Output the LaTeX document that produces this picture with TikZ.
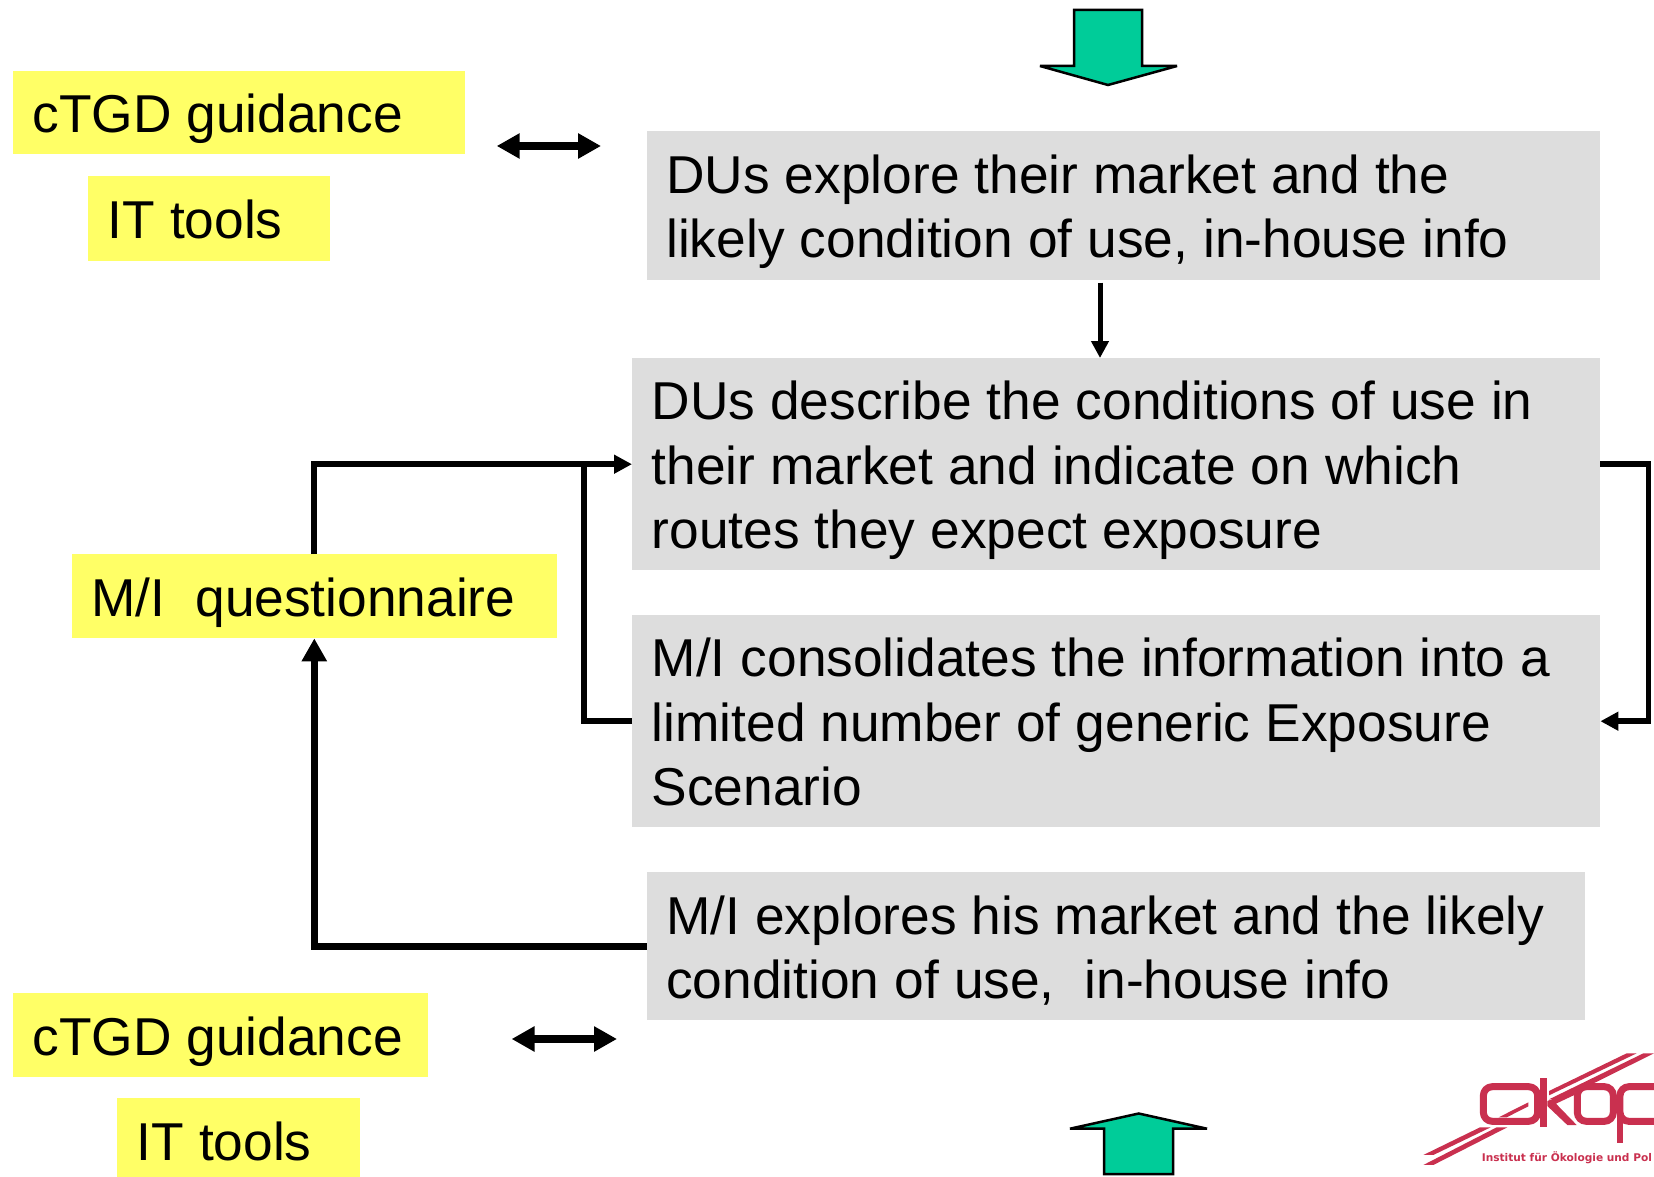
\documentclass[tikz,border=0pt]{standalone}
\usepackage{fontspec}
\setmainfont{Liberation Sans}
\newfontfamily\logofont{DejaVu Sans Bold}
\usetikzlibrary{arrows.meta,calc}
\definecolor{hl}{HTML}{FFFF66}
\definecolor{bx}{HTML}{DDDDDD}
\definecolor{grn}{HTML}{00CC99}
\definecolor{lg}{HTML}{C9304F}
\newcommand{\lnstrut}{\rule[-12.15pt]{0pt}{64.3pt}}
\tikzset{
  lbl/.style n args={2}{anchor=north west,inner ysep=0pt,inner xsep=19.5pt,
    minimum height=#2,text width=#1-39pt,align=left,
    execute at begin node={\spaceskip=15pt\relax\xspaceskip=15pt\relax\lnstrut},execute at end node=\lnstrut,
    font=\fontsize{53.3}{64.3}\selectfont,text=black},
  yellowbox/.style n args={2}{lbl={#1}{#2},fill=hl},
  greybox/.style n args={2}{lbl={#1}{#2},fill=bx},
  conn/.style={line width=5.7pt,draw=black,line cap=butt,line join=miter},
  headS/.style={-{Triangle[length=18pt,width=18pt]}},
  headB/.style={conn,line width=7pt,-{Triangle[length=23pt,width=24pt]}},
  dbl/.style={line width=8pt,draw=black,{Triangle[length=23pt,width=24pt]}-{Triangle[length=23pt,width=24pt]}},
  bigarrow/.style={fill=grn,draw=black,line width=2.5pt,line join=miter,miter limit=3},
  logoline/.style={fill=lg,draw=none}
}
\begin{document}
\begin{tikzpicture}[x=1pt,y=-1pt]
\useasboundingbox (0,0) rectangle (1654,1177);
% boxes
\node[yellowbox={452.3pt}{83.5pt}] (g1) at (12.7,70.5) {cTGD guidance};
\node[yellowbox={241.5pt}{84.5pt}] (t1) at (88,176) {IT tools};
\node[greybox={953.4pt}{148.5pt}] (d1) at (646.6,131) {DUs explore their market and the\\likely condition of use, in-house info};
\node[greybox={968pt}{212pt}] (d2) at (632,358) {DUs describe the conditions of use in\\their market and indicate on which\\routes they expect exposure};
\node[greybox={968pt}{212pt}] (m1) at (632,615) {M/I consolidates the information into a\\limited number of generic Exposure\\Scenario};
\node[greybox={938.4pt}{148pt}] (m2) at (646.6,872) {M/I explores his market and the likely\\condition of use,\ \ in-house info};
\node[yellowbox={485.3pt}{84pt}] (q) at (71.7,554) {M/I\ \ questionnaire};
\node[yellowbox={415.3pt}{84pt}] (g2) at (12.7,993) {cTGD guidance};
\node[yellowbox={243pt}{84pt}] (t2) at (117,1098) {IT tools};
% free ends
\coordinate (qtop) at ($(q.north west)+(242.6pt,0pt)$);
\coordinate (qbot) at ($(q.south west)+(242.6pt,0pt)$);
\coordinate (g1r) at (496.7,146);
\coordinate (d1l) at (601,146);
\coordinate (g2r) at (511.6,1039);
\coordinate (m2l) at (617,1039);
\coordinate (d1b) at (1100,282.5);
\coordinate (d2t) at (1100,358);
% connectors
\draw[line width=5pt,-{Triangle[length=17pt,width=17pt]}] (d1b) -- (d2t);
\draw[conn,headS] (qtop) |- (d2.west);
\draw[conn] (m1.west) -| ($(d2.west)+(-48pt,0pt)$);
\draw[conn,headS] (d2.east) -| ($(m1.east)+(48pt,0pt)$) -- (m1.east);
\draw[headB] (m2.west) -| (qbot);
\draw[dbl] (g1r) -- (d1l);
\draw[dbl] (g2r) -- (m2l);
% big arrows
\draw[bigarrow] (1074,10) -- (1142,10) -- (1142,66) -- (1177,66) -- (1108,85) -- (1040,66) -- (1074,66) -- cycle;
\draw[bigarrow] (1104,1174) -- (1173,1174) -- (1173,1128.7) -- (1207,1128.7) -- (1138.7,1113.5) -- (1070,1128.7) -- (1104,1128.7) -- cycle;
% logo
\begin{scope}
\clip (1400,1030) rectangle (1654,1177);
\begin{scope}[shift={(1400,1030)},x=0.3333pt,y=-0.3333pt]
\path[logoline] (680,70) -- (710,70) -- (447,196) -- (447,183) -- cycle;
\path[logoline] (730,70) -- (762,70) -- (490,205) -- (447,208) -- cycle;
\path[logoline] (240,292) -- (272,292) -- (100,375) -- (70,375) -- cycle;
\path[logoline] (290,292) -- (322,292) -- (100,405) -- (70,405) -- cycle;
\path[logoline] (296,262) -- (385,217) -- (385,229) -- (320,262) -- cycle;
\draw[lg,line width=7pt,rounded corners=9pt,line join=round] (250,170) rectangle (413,274);
\path[logoline] (420,145) -- (442,145) -- (442,290) -- (420,290) -- cycle;
\path[logoline] (442,213) -- (510,187) -- (540,187) -- (468,221) -- (530,285) -- (502,285) -- (442,228) -- cycle;
\draw[lg,line width=7pt,rounded corners=9pt] (532,170) rectangle (640,274);
\draw[lg,line width=7pt,rounded corners=9pt] (660,170) rectangle (800,274);
\path[logoline] (650,200) -- (670,200) -- (670,340) -- (650,340) -- cycle;
\node[anchor=base west,inner sep=0pt,text=lg,font=\logofont\fontsize{10.6}{12}\selectfont] (logotext) at (245,396) {Institut für Ökologie und Pol};
\end{scope}
\end{scope}
\end{tikzpicture}
\end{document}
